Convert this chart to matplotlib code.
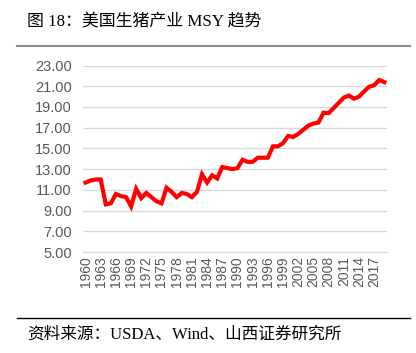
import matplotlib
matplotlib.use('Agg')
import matplotlib.pyplot as plt
from matplotlib.lines import Line2D

years = list(range(1960, 2020))
msy = [11.7, 11.9, 12.0, 12.0, 9.6, 9.7, 10.6, 10.4, 10.3, 9.4,
       11.1, 10.2, 10.7, 10.3, 9.9, 9.7, 11.2, 10.8, 10.3, 10.7,
       10.6, 10.3, 10.8, 12.5, 11.7, 12.4, 12.1, 13.2, 13.1, 13.0,
       13.1, 13.9, 13.7, 13.7, 14.1, 14.1, 14.1, 15.2, 15.2, 15.5,
       16.2, 16.1, 16.4, 16.8, 17.2, 17.4, 17.5, 18.45, 18.4, 18.9,
       19.4, 19.9, 20.1, 19.8, 20.0, 20.5, 20.95, 21.1, 21.6, 21.4]
yticks = [5, 7, 9, 11, 13, 15, 17, 19, 21, 23]
tick_step = 3

cjk = ['Liberation Serif', 'Noto Sans CJK SC']

fig = plt.figure(figsize=(4.16, 3.53), dpi=100)
ax = fig.add_axes([0.1995, 0.2861, 0.7305, 0.5283])

x = list(range(len(years)))
ax.plot(x, msy, color='#ff0000', lw=3, solid_joinstyle='miter', zorder=3)

ax.set_xlim(-0.5, len(years) - 0.5)
ax.set_ylim(5, 23)
ax.set_yticks(yticks)
ax.set_yticklabels(['{:.2f}'.format(v) for v in yticks])
ax.set_xticks(x[::tick_step])
ax.set_xticklabels([str(y) for y in years[::tick_step]], rotation=90)

ax.grid(axis='y', color='#d9d9d9', lw=1)
ax.set_axisbelow(True)
for s in ['top', 'right', 'left']:
    ax.spines[s].set_visible(False)
ax.spines['bottom'].set_color('#d9d9d9')
ax.tick_params(length=0, colors='#595959')
ax.tick_params(axis='y', labelsize=10.5, pad=8)
ax.tick_params(axis='x', labelsize=10, pad=3)
for lbl in ax.get_xticklabels() + ax.get_yticklabels():
    lbl.set_family('Liberation Sans')

# title, rules and source note
fig.text(0.065, 0.938, '图 18：美国生猪产业 MSY 趋势', family=cjk,
         fontsize=12.2, va='center', ha='left', color='black')
fig.add_artist(Line2D([0.041, 0.986], [0.870, 0.870], color='#8c8c8c', lw=1.5))
fig.add_artist(Line2D([0.041, 0.986], [0.099, 0.099], color='black', lw=1))
fig.text(0.065, 0.051, '资料来源：USDA、Wind、山西证券研究所', family=cjk,
         fontsize=12, va='center', ha='left', color='black')

fig.savefig('out.png', dpi=100)
